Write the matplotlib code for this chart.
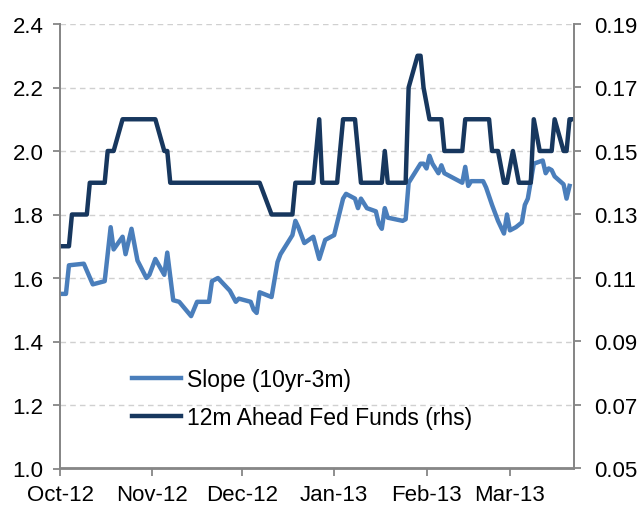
import matplotlib
matplotlib.use("Agg")
import matplotlib.pyplot as plt
import matplotlib.dates as mdates
import pandas as pd

# Slope (10yr-3m), lhs
slope_dates = [
    "2012-10-01", "2012-10-03", "2012-10-04", "2012-10-09", "2012-10-12", "2012-10-16",
    "2012-10-18", "2012-10-19", "2012-10-22", "2012-10-23", "2012-10-25", "2012-10-27",
    "2012-10-30", "2012-10-31", "2012-11-02", "2012-11-05", "2012-11-06", "2012-11-08",
    "2012-11-10", "2012-11-14", "2012-11-16", "2012-11-20", "2012-11-21", "2012-11-23",
    "2012-11-27", "2012-11-29", "2012-11-30", "2012-12-04", "2012-12-05", "2012-12-06",
    "2012-12-07", "2012-12-11", "2012-12-13", "2012-12-14", "2012-12-18", "2012-12-19",
    "2012-12-20", "2012-12-22", "2012-12-25", "2012-12-27", "2012-12-29", "2013-01-01",
    "2013-01-04", "2013-01-05", "2013-01-08", "2013-01-09", "2013-01-10", "2013-01-12",
    "2013-01-15", "2013-01-16", "2013-01-17", "2013-01-18", "2013-01-19", "2013-01-24",
    "2013-01-25", "2013-01-26", "2013-01-28", "2013-01-30", "2013-01-31", "2013-02-01",
    "2013-02-02", "2013-02-03", "2013-02-05", "2013-02-06", "2013-02-07", "2013-02-09",
    "2013-02-11", "2013-02-13", "2013-02-14", "2013-02-15", "2013-02-16", "2013-02-20",
    "2013-02-21", "2013-02-23", "2013-02-25", "2013-02-27", "2013-02-28", "2013-03-01",
    "2013-03-03", "2013-03-05", "2013-03-06", "2013-03-07", "2013-03-09", "2013-03-12",
    "2013-03-13", "2013-03-14", "2013-03-15", "2013-03-16", "2013-03-19", "2013-03-20",
    "2013-03-21",
]
slope = [
    1.55, 1.55, 1.64, 1.645, 1.58, 1.59,
    1.76, 1.69, 1.73, 1.675, 1.755, 1.655,
    1.60, 1.61, 1.66, 1.61, 1.68, 1.53,
    1.525, 1.48, 1.525, 1.525, 1.59, 1.60,
    1.56, 1.525, 1.535, 1.525, 1.50, 1.49,
    1.555, 1.54, 1.65, 1.675, 1.735, 1.78,
    1.76, 1.71, 1.73, 1.66, 1.72, 1.735,
    1.85, 1.865, 1.85, 1.82, 1.85, 1.82,
    1.81, 1.77, 1.755, 1.82, 1.79, 1.78,
    1.785, 1.90, 1.93, 1.96, 1.96, 1.945,
    1.985, 1.96, 1.93, 1.955, 1.93, 1.92,
    1.91, 1.90, 1.95, 1.89, 1.905, 1.905,
    1.885, 1.83, 1.78, 1.74, 1.80, 1.75,
    1.76, 1.775, 1.83, 1.85, 1.96, 1.97,
    1.93, 1.945, 1.94, 1.92, 1.895, 1.85,
    1.89,
]

# 12m ahead fed funds, rhs
fed_dates = [
    "2012-10-01", "2012-10-04", "2012-10-05", "2012-10-10", "2012-10-11", "2012-10-16",
    "2012-10-17", "2012-10-19", "2012-10-22", "2012-11-02", "2012-11-05", "2012-11-06",
    "2012-11-07", "2012-12-07", "2012-12-11", "2012-12-18", "2012-12-19", "2012-12-25",
    "2012-12-27", "2012-12-28", "2013-01-02", "2013-01-04", "2013-01-08", "2013-01-10",
    "2013-01-17", "2013-01-18", "2013-01-19", "2013-01-25", "2013-01-26", "2013-01-29",
    "2013-01-30", "2013-01-31", "2013-02-02", "2013-02-06", "2013-02-07", "2013-02-13",
    "2013-02-14", "2013-02-22", "2013-02-23", "2013-02-25", "2013-02-27", "2013-02-28",
    "2013-03-02", "2013-03-04", "2013-03-08", "2013-03-09", "2013-03-11", "2013-03-15",
    "2013-03-16", "2013-03-19", "2013-03-20", "2013-03-21", "2013-03-22",
]
fed = [
    0.12, 0.12, 0.13, 0.13, 0.14, 0.14,
    0.15, 0.15, 0.16, 0.16, 0.15, 0.15,
    0.14, 0.14, 0.13, 0.13, 0.14, 0.14,
    0.16, 0.14, 0.14, 0.16, 0.16, 0.14,
    0.14, 0.15, 0.14, 0.14, 0.17, 0.18,
    0.18, 0.17, 0.16, 0.16, 0.15, 0.15,
    0.16, 0.16, 0.15, 0.15, 0.14, 0.14,
    0.15, 0.14, 0.14, 0.16, 0.15, 0.15,
    0.16, 0.15, 0.15, 0.16, 0.16,
]

left_ticks = [1.0, 1.2, 1.4, 1.6, 1.8, 2.0, 2.2, 2.4]
right_ticks = [0.05, 0.07, 0.09, 0.11, 0.13, 0.15, 0.17, 0.19]

light = "#4A7EBB"
dark = "#17375E"
spine_col = "#868686"

plt.rcParams["font.family"] = ["Liberation Sans", "DejaVu Sans"]

fig = plt.figure(figsize=(6.37, 5.10), dpi=100)
ax = fig.add_axes([60 / 637, 1 - 469.5 / 510, (574 - 60) / 637, (469.5 - 25) / 510])
ax2 = ax.twinx()

x1 = pd.to_datetime(slope_dates)
x2 = pd.to_datetime(fed_dates)

l1, = ax.plot(x1, slope, color=light, lw=3.2, solid_joinstyle="round", label="Slope (10yr-3m)")
l2, = ax2.plot(x2, fed, color=dark, lw=3.2, solid_joinstyle="round", label="12m Ahead Fed Funds (rhs)")

ax.set_xlim(pd.Timestamp("2012-10-01"), pd.Timestamp("2013-03-22 12:00"))
ax.set_ylim(1.0, 2.4)
ax2.set_ylim(0.05, 0.19)
ax.set_yticks(left_ticks)
ax.set_yticklabels([f"{v:.1f}" for v in left_ticks])
ax2.set_yticks(right_ticks)
ax2.set_yticklabels([f"{v:.2f}" for v in right_ticks])

ax.xaxis.set_major_locator(mdates.MonthLocator())
ax.xaxis.set_major_formatter(mdates.DateFormatter("%b-%y"))

ax.grid(axis="y", color="#D0D0D0", linestyle=(0, (4, 3)), linewidth=1.0)
ax.set_axisbelow(True)

for a in (ax, ax2):
    a.spines["top"].set_visible(False)
    for s in ("left", "right", "bottom"):
        a.spines[s].set_color(spine_col)
        a.spines[s].set_linewidth(1.3)

ax.tick_params(axis="y", labelsize=16, length=5, width=1.3, color=spine_col, pad=7)
ax.tick_params(axis="x", labelsize=16, length=5, width=1.3, color=spine_col, pad=6)
ax2.tick_params(axis="y", labelsize=16, length=5, width=1.3, color=spine_col, pad=9.5)

fig.legend([l1, l2], [l1.get_label(), l2.get_label()], loc="center left",
           bbox_to_anchor=(131.7 / 637, 1 - 399.2 / 510), frameon=False,
           fontsize=16.5, handlelength=2.15, handletextpad=0.25, labelspacing=0.65,
           borderpad=0, borderaxespad=0)

fig.savefig("out.png", dpi=100)
